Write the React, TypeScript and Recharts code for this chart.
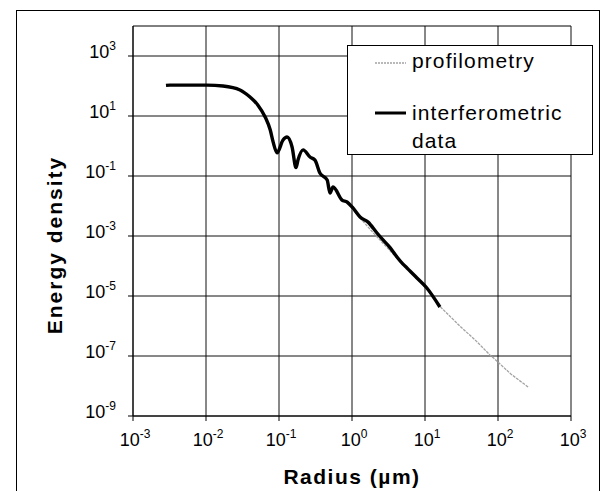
import React from 'react';
import {
  LineChart, Line, XAxis, YAxis, CartesianGrid, ReferenceLine, Legend,
} from 'recharts';

// interferometric data (radius in µm, energy density)
const interfRadius = [
  0.00283, 0.00321, 0.0103, 0.0171, 0.0292, 0.0401, 0.0515, 0.0646, 0.0759, 0.0832,
  0.094, 0.1135, 0.129, 0.151, 0.171, 0.182, 0.214, 0.266, 0.311, 0.363,
  0.457, 0.50, 0.55, 0.73, 0.855, 1.03, 1.29, 1.66, 2.2, 2.66,
  3.3, 4.13, 5.0, 5.66, 7.76, 10.6, 16,
];
const interfEnergy = [
  105, 107, 107, 100, 74, 43, 23, 9.3, 3.4, 1.35,
  0.59, 1.58, 2.0, 0.93, 0.19, 0.34, 0.74, 0.43, 0.34, 0.126,
  0.074, 0.027, 0.043, 0.0158, 0.0136, 0.0086, 0.0043, 0.0029, 0.00126, 7.4e-4,
  4.2e-4, 2.0e-4, 1.15e-4, 8.6e-5, 4.0e-5, 1.85e-5, 4.3e-6,
];

// profilometry
const profRadius = [1, 2, 4, 10, 16, 30, 50, 78, 100, 150, 258];
const profEnergy = [8e-3, 1.2e-3, 2e-4, 2e-5, 4.5e-6, 1.0e-6, 3.2e-7, 1.07e-7, 6.3e-8, 2.5e-8, 9.3e-9];

const xTicks = [1e-3, 1e-2, 1e-1, 1, 1e1, 1e2, 1e3];
const yTicks = [1e-9, 1e-7, 1e-5, 1e-3, 1e-1, 1e1, 1e3];

const interfData = interfRadius.map((x, i) => ({ x, y: interfEnergy[i] }));
const profData = profRadius.map((x, i) => ({ x, y: profEnergy[i] }));

const FONT = '"Liberation Sans", Arial, Helvetica, sans-serif';
const PROF_COLOR = '#a3a3a3';

const exp10 = (v: number) => Math.round(Math.log10(v));

function XTick({ x, y, payload }: any) {
  return (
    <text x={x + 2} y={y + 23} textAnchor="middle" fontFamily={FONT} fontSize={18} fill="#000">
      <tspan>10</tspan>
      <tspan dy={-8} fontSize={12}>{exp10(payload.value)}</tspan>
    </text>
  );
}

function YTick({ x, y, payload }: any) {
  return (
    <text x={x - 10} y={y + 2} textAnchor="end" fontFamily={FONT} fontSize={18} fill="#000">
      <tspan>10</tspan>
      <tspan dy={-8} fontSize={12}>{exp10(payload.value)}</tspan>
    </text>
  );
}

function LegendBox() {
  return (
    <svg width={246} height={110} style={{ display: 'block' }}>
      <rect x={0.5} y={0.5} width={245} height={109} fill="#fff" stroke="#000" />
      <line x1={28} x2={59} y1={18} y2={18} stroke={PROF_COLOR} strokeWidth={1.5} strokeDasharray="2 1" />
      <text x={65} y={23} fontFamily={FONT} fontSize={21} letterSpacing={1.1} fill="#000">profilometry</text>
      <line x1={28} x2={59} y1={68} y2={68} stroke="#000" strokeWidth={3} />
      <text x={65} y={75} fontFamily={FONT} fontSize={21} letterSpacing={1.1} fill="#000">interferometric</text>
      <text x={65} y={103} fontFamily={FONT} fontSize={21} letterSpacing={1.1} fill="#000">data</text>
    </svg>
  );
}

export default function App() {
  return (
    <div style={{ position: 'absolute', left: 0, top: 0, width: 606, height: 491, overflow: 'hidden', background: '#fff' }}>
      <div style={{ position: 'absolute', left: 16, top: 10, width: 582, height: 500, border: '1px solid #000' }} />
      <div style={{ position: 'absolute', left: 0, top: 0 }}>
        <LineChart width={606} height={491} margin={{ top: 26, right: 35, bottom: 0, left: 0 }}>
          <CartesianGrid stroke="#111" strokeWidth={1} horizontalValues={yTicks} verticalValues={xTicks} />
          <XAxis
            dataKey="x" type="number" scale="log" domain={[1e-3, 1e3]} ticks={xTicks}
            allowDataOverflow height={75} tick={<XTick />} tickSize={5}
            stroke="#000" interval={0}
          />
          <YAxis
            dataKey="y" type="number" scale="log" domain={[1e-9, 1e4]} ticks={yTicks}
            allowDataOverflow width={133} tick={<YTick />} tickSize={5}
            stroke="#000" interval={0}
          />
          <ReferenceLine y={1e4} stroke="#000" />
          <Line
            data={profData} dataKey="y" name="profilometry" type="linear"
            stroke={PROF_COLOR} strokeWidth={1.3} strokeDasharray="3 1" dot={false}
            isAnimationActive={false}
          />
          <Line
            data={interfData} dataKey="y" name="interferometric data" type="monotone"
            stroke="#000" strokeWidth={3.4} dot={false}
            isAnimationActive={false}
          />
          <Legend
            layout="vertical" align="center" verticalAlign="middle"
            content={() => <LegendBox />}
            wrapperStyle={{ position: 'absolute', left: 347, top: 45, width: 246, height: 110 }}
          />
          <text x={62} y={245} transform="rotate(-90, 62, 245)" textAnchor="middle"
            fontFamily={FONT} fontSize={21} fontWeight="bold" letterSpacing={2} fill="#000">
            Energy density
          </text>
          <text x={352} y={484} textAnchor="middle"
            fontFamily={FONT} fontSize={21} fontWeight="bold" letterSpacing={1.5} fill="#000">
            Radius (µm)
          </text>
        </LineChart>
      </div>
    </div>
  );
}
